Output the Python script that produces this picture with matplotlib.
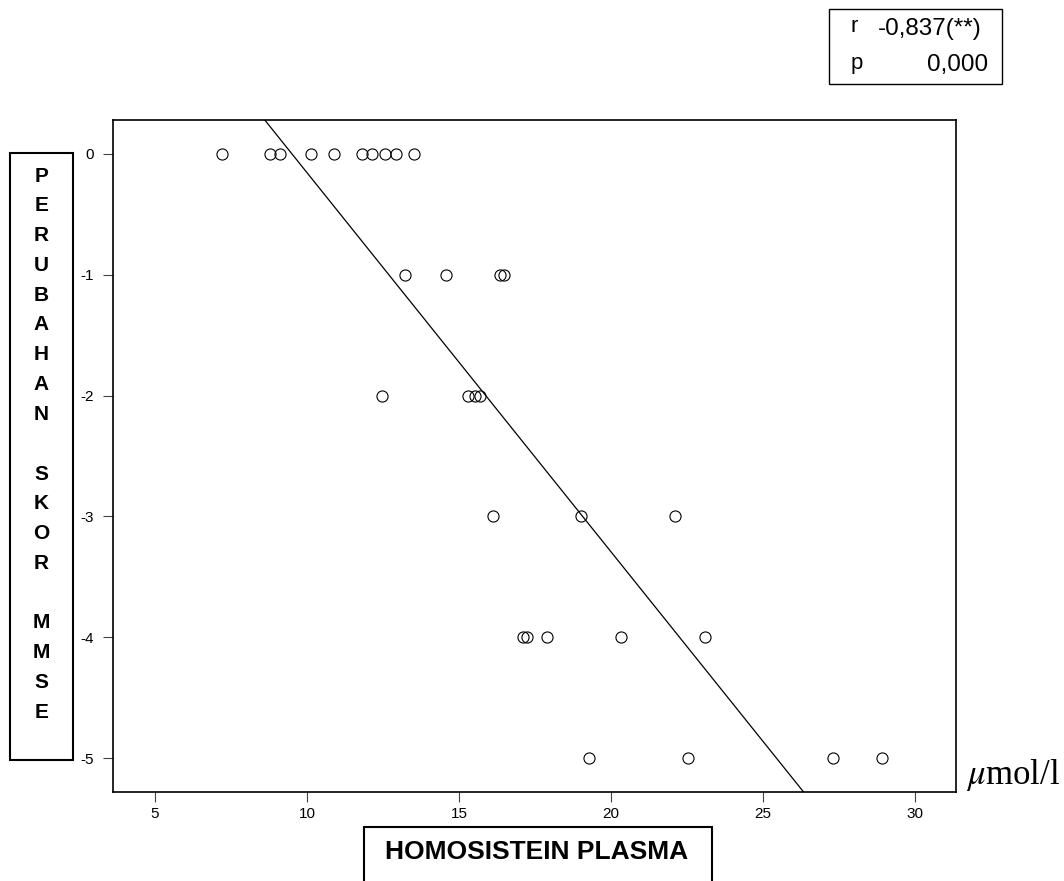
import matplotlib.pyplot as plt
import matplotlib.patches as patches
import numpy as np

plt.rcParams['font.family'] = ['Liberation Sans', 'DejaVu Sans']
plt.rcParams['mathtext.fontset'] = 'stix'
plt.rcParams['axes.unicode_minus'] = False

# data (x = homosistein plasma, y = perubahan skor MMSE)
homosistein = [7.21, 8.78, 9.11, 10.13, 10.89, 11.80, 12.13, 12.57, 12.93, 13.53,
               13.22, 14.57, 16.35, 16.48,
               12.46, 15.31, 15.53, 15.69,
               16.11, 19.01, 22.10,
               17.12, 17.25, 17.90, 20.32, 23.09,
               19.28, 22.53, 27.30, 28.91]
perubahan = [0] * 10 + [-1] * 4 + [-2] * 4 + [-3] * 3 + [-4] * 5 + [-5] * 4

x_ticks = [5, 10, 15, 20, 25, 30]
y_ticks = [0, -1, -2, -3, -4, -5]
r_text = '-0,837(**)'
p_text = '0,000'
y_label = 'PERUBAHAN SKOR MMSE'
x_label = 'HOMOSISTEIN PLASMA'

W, H = 1064, 881
fig = plt.figure(figsize=(W / 100, H / 100), dpi=100)
ax = fig.add_axes([113 / W, 1 - 792 / H, (956 - 113) / W, (792 - 120) / H])

x = np.array(homosistein)
y = np.array(perubahan)
ax.plot(x, y, 'o', ms=8, mfc='none', mec='black', mew=0.8, zorder=3)

# regresi linear
k, b = np.polyfit(x, y, 1)
xlim = (3.62, 31.35)
xx = np.array(xlim)
ax.plot(xx, k * xx + b, color='black', lw=0.9)

ax.set_xlim(*xlim)
ax.set_ylim(-5.28, 0.28)
ax.set_xticks(x_ticks)
ax.set_yticks(y_ticks)
ax.tick_params(direction='out', length=7, width=0.8, color='#444444', labelsize=11)
ax.tick_params(axis='x', pad=4)
ax.tick_params(axis='y', pad=7)
for s in ax.spines.values():
    s.set_linewidth(1.2)

# label sumbu y, huruf disusun vertikal dalam kotak
fig.patches.append(patches.Rectangle((10 / W, 1 - 760 / H), 63 / W, 607 / H,
                                     transform=fig.transFigure, fill=False,
                                     lw=1.5, ec='black'))
for i, ch in enumerate(y_label):
    if ch == ' ':
        continue
    fig.text(41.5 / W, 1 - (176 + i * 29.8) / H, ch, ha='center', va='center',
             fontsize=15, fontweight='bold')

# label sumbu x dalam kotak
fig.patches.append(patches.Rectangle((364 / W, 1 - 900 / H), 348 / W, 73 / H,
                                     transform=fig.transFigure, fill=False,
                                     lw=1.5, ec='black', clip_on=False))
fig.text(537 / W, 1 - 852 / H, x_label, ha='center', va='center',
         fontsize=19, fontweight='bold')

# satuan
fig.text(966 / W, 1 - 775 / H, r'$\mu$mol/l', ha='left', va='center',
         fontsize=25, family='Liberation Serif')

# kotak korelasi
fig.patches.append(patches.Rectangle((829 / W, 1 - 84 / H), 173 / W, 75 / H,
                                     transform=fig.transFigure, fill=False,
                                     lw=1.0, ec='black'))
fig.text(851 / W, 1 - 26 / H, 'r', ha='left', va='center', fontsize=16)
fig.text(851 / W, 1 - 63 / H, 'p', ha='left', va='center', fontsize=16)
fig.text(982 / W, 1 - 29 / H, r_text, ha='right', va='center', fontsize=17.5)
fig.text(988 / W, 1 - 65 / H, p_text, ha='right', va='center', fontsize=17.5)

fig.savefig('out.png', dpi=100)
